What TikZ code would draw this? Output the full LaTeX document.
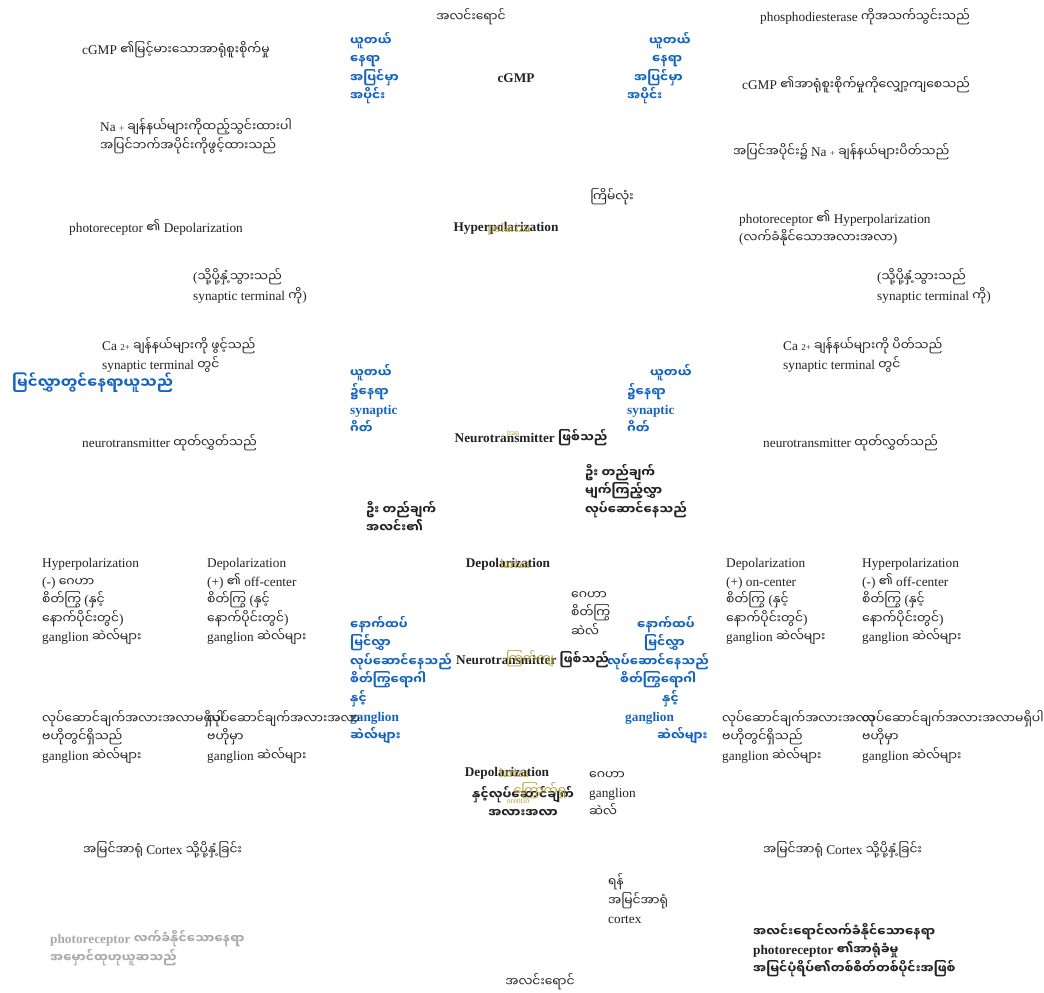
\documentclass[tikz,border=0pt]{standalone}
\usepackage{fontspec}
\setmainfont{Liberation Serif}
\newfontfamily\mmfont[Script=Myanmar,Scale=0.93]{Noto Sans Myanmar UI}
\usetikzlibrary{positioning}
\definecolor{ink}{HTML}{222222}
\definecolor{mmblue}{HTML}{1565C0}
\definecolor{gold}{HTML}{B9A032}
\definecolor{fadegray}{HTML}{A9A9A9}
\newcommand\mm[1]{{\mmfont #1}}
\newcommand\lblsize{\fontsize{13.3}{18.5}\selectfont}
\newcommand\sml[1]{{\fontsize{9}{9}\selectfont #1}}

\begin{document}
\begin{tikzpicture}[x=1pt,y=-1pt,
  lbl/.style={ink,font=\lblsize,inner sep=0pt,align=left,anchor=west},
  hd/.style={lbl,font=\lblsize\bfseries},
  blu/.style={hd,mmblue},
  glint/.style={gold,font=\lblsize,inner sep=0pt}]
  \useasboundingbox (0,0) rectangle (1044,993);
  % rod, top half
  \node[lbl,anchor=center] (light-top) at (471,17) {\mm{အလင်းရောင်}};
  \node[lbl] (cgmp-high) at (82,50) {cGMP \mm{၏မြင့်မားသောအာရုံစူးစိုက်မှု}};
  \node[blu] (out-seg-l) at (350,68) {\mm{ယူတယ်}\\\mm{နေရာ}\\\mm{အပြင်မှာ}\\\mm{အပိုင်း}};
  \node[hd,anchor=center] (cgmp) at (516,78) {cGMP};
  \node[blu] (out-seg-r) at (627,68) {\hspace*{22pt}\mm{ယူတယ်}\\\hspace*{25pt}\mm{နေရာ}\\\hspace*{7pt}\mm{အပြင်မှာ}\\\mm{အပိုင်း}};
  \node[lbl] (pde) at (760,17) {phosphodiesterase \mm{ကိုအသက်သွင်းသည်}};
  \node[lbl] (cgmp-low) at (742,85) {cGMP \mm{၏အာရုံစူးစိုက်မှုကိုလျှော့ကျစေသည်}};
  \node[lbl] (na-open) at (100,136) {Na \sml{+} \mm{ချန်နယ်များကိုထည့်သွင်းထားပါ}\\\mm{အပြင်ဘက်အပိုင်းကိုဖွင့်ထားသည်}};
  \node[lbl] (na-shut) at (733,152) {\mm{အပြင်အပိုင်း၌} Na \sml{+} \mm{ချန်နယ်များပိတ်သည်}};
  \node[lbl,anchor=center] (rod) at (612,197) {\mm{ကြိမ်လုံး}};
  \node[lbl] (depol-pr) at (69,227) {photoreceptor \mm{၏} Depolarization};
  \node[hd,anchor=center] (hyper) at (506,228) {Hyperpolarization};
  \node[glint] (hyper-g) at (509,229) {polariza};
  \node[lbl] (hyper-pr) at (739,228) {photoreceptor \mm{၏} Hyperpolarization\\(\mm{လက်ခံနိုင်သောအလားအလာ})};
  \node[lbl] (spread-l) at (193,286) {(\mm{သို့ပို့နှံ့သွားသည်}\\synaptic terminal \mm{ကို})};
  \node[lbl] (spread-r) at (877,286) {(\mm{သို့ပို့နှံ့သွားသည်}\\synaptic terminal \mm{ကို})};
  \node[lbl] (ca-open) at (102,355) {Ca \sml{2+} \mm{ချန်နယ်များကို ဖွင့်သည်}\\synaptic terminal \mm{တွင်}};
  \node[blu,font=\fontsize{16}{18}\selectfont\bfseries] (retina) at (12,383) {\mm{မြင်လွှာတွင်နေရာယူသည်}};
  \node[lbl] (nt-out-l) at (82,443) {neurotransmitter \mm{ထုတ်လွှတ်သည်}};
  \node[blu] (gate-l) at (350,399) {\mm{ယူတယ်}\\\mm{၌နေရာ}\\synaptic\\\mm{ဂိတ်}};
  \node[hd,anchor=center] (nt-1) at (531,438) {Neurotransmitter \mm{ဖြစ်သည်}};
  \node[glint,font=\fontsize{8}{8}\selectfont] (nt-1g) at (513,433) {tran};
  \node[blu] (gate-r) at (627,399) {\hspace*{23pt}\mm{ယူတယ်}\\\mm{၌နေရာ}\\synaptic\\\mm{ဂိတ်}};
  \node[lbl] (ca-shut) at (783,355) {Ca \sml{2+} \mm{ချန်နယ်များကို ပိတ်သည်}\\synaptic terminal \mm{တွင်}};
  \node[lbl] (nt-out-r) at (763,443) {neurotransmitter \mm{ထုတ်လွှတ်သည်}};
  \node[hd] (dir-r) at (585,491) {\mm{ဦး တည်ချက်}\\\mm{မျက်ကြည့်လွှာ}\\\mm{လုပ်ဆောင်နေသည်}};
  \node[hd] (dir-l) at (366,517) {\mm{ဦး တည်ချက်}\\\mm{အလင်း၏}};
  % bipolar and ganglion cells
  \node[hd,anchor=center] (depol-1) at (508,564) {Depolarization};
  \node[glint] (depol-1g) at (515,564) {lariza};
  \node[lbl] (hyp-l) at (42,602) {Hyperpolarization\\(-) \mm{ဂေဟာ}\\\mm{စိတ်ကြွ} (\mm{နှင့်}\\\mm{နောက်ပိုင်းတွင်})\\ganglion \mm{ဆဲလ်များ}};
  \node[lbl] (dep-l) at (207,602) {Depolarization\\(+) \mm{၏} off-center\\\mm{စိတ်ကြွ} (\mm{နှင့်}\\\mm{နောက်ပိုင်းတွင်})\\ganglion \mm{ဆဲလ်များ}};
  \node[lbl] (bip-1) at (571,614) {\mm{ဂေဟာ}\\\mm{စိတ်ကြွ}\\\mm{ဆဲလ်}};
  \node[blu] (more-l) at (350,680) {\mm{နောက်ထပ်}\\\mm{မြင်လွှာ}\\\mm{လုပ်ဆောင်နေသည်}\\\mm{စိတ်ကြွရောဂါ}\\\mm{နှင့်}\\ganglion\\\mm{ဆဲလ်များ}};
  \node[hd] (nt-2) at (456,660) {Neurotransmitter \mm{ဖြစ်သည်}};
  \node[glint,anchor=center] (nt-2g) at (530,659) {\mm{ကြက်ကျ}};
  \node[blu] (more-r) at (607,680) {\hspace*{30pt}\mm{နောက်ထပ်}\\\hspace*{37pt}\mm{မြင်လွှာ}\\\mm{လုပ်ဆောင်နေသည်}\\\hspace*{13pt}\mm{စိတ်ကြွရောဂါ}\\\hspace*{55pt}\mm{နှင့်}\\\hspace*{18pt}ganglion\\\hspace*{50pt}\mm{ဆဲလ်များ}};
  \node[lbl] (dep-r) at (726,602) {Depolarization\\(+) on-center\\\mm{စိတ်ကြွ} (\mm{နှင့်}\\\mm{နောက်ပိုင်းတွင်})\\ganglion \mm{ဆဲလ်များ}};
  \node[lbl] (hyp-r) at (862,602) {Hyperpolarization\\(-) \mm{၏} off-center\\\mm{စိတ်ကြွ} (\mm{နှင့်}\\\mm{နောက်ပိုင်းတွင်})\\ganglion \mm{ဆဲလ်များ}};
  \node[lbl] (ap-l1) at (42,737) {\mm{လုပ်ဆောင်ချက်အလားအလာမရှိပါ}\\\mm{ဗဟိုတွင်ရှိသည်}\\ganglion \mm{ဆဲလ်များ}};
  \node[lbl] (ap-l2) at (207,737) {\mm{လုပ်ဆောင်ချက်အလားအလာ}\\\mm{ဗဟိုမှာ}\\ganglion \mm{ဆဲလ်များ}};
  \node[lbl] (ap-r1) at (722,737) {\mm{လုပ်ဆောင်ချက်အလားအလာ}\\\mm{ဗဟိုတွင်ရှိသည်}\\ganglion \mm{ဆဲလ်များ}};
  \node[lbl] (ap-r2) at (862,737) {\mm{လုပ်ဆောင်ချက်အလားအလာမရှိပါ}\\\mm{ဗဟိုမှာ}\\ganglion \mm{ဆဲလ်များ}};
  \node[hd,anchor=center] (depol-2) at (507,773) {Depolarization};
  \node[glint] (depol-2g) at (514,773) {lariza};
  \node[hd,anchor=center,align=center] (ap-c) at (523,802) {\mm{နှင့်လုပ်ဆောင်ချက်}\\\mm{အလားအလာ}};
  \node[glint,anchor=center] (ap-cg) at (540,791) {\mm{ကြောက်ရှ}};
  \node[glint,anchor=center,font=\fontsize{8}{8}\selectfont] (ap-cg2) at (518,801) {orentio};
  \node[lbl] (gang-c) at (589,794) {\mm{ဂေဟာ}\\ganglion\\\mm{ဆဲလ်}};
  % to the cortex
  \node[lbl] (cortex-l) at (83,850) {\mm{အမြင်အာရုံ} Cortex \mm{သို့ပို့နှံ့ခြင်း}};
  \node[lbl] (cortex-r) at (763,850) {\mm{အမြင်အာရုံ} Cortex \mm{သို့ပို့နှံ့ခြင်း}};
  \node[lbl] (to-cortex) at (608,899) {\mm{ရန်}\\\mm{အမြင်အာရုံ}\\cortex};
  \node[hd,fadegray] (dark) at (50,948) {photoreceptor \mm{လက်ခံနိုင်သောနေရာ}\\\mm{အမှောင်ထုဟုယူဆသည်}};
  \node[hd] (lit) at (753,950) {\mm{အလင်းရောင်လက်ခံနိုင်သောနေရာ}\\photoreceptor \mm{၏အာရုံခံမှု}\\\mm{အမြင်ပုံရိပ်၏တစ်စိတ်တစ်ပိုင်းအဖြစ်}};
  \node[lbl,anchor=center] (light-bot) at (540,982) {\mm{အလင်းရောင်}};
\end{tikzpicture}
\end{document}
